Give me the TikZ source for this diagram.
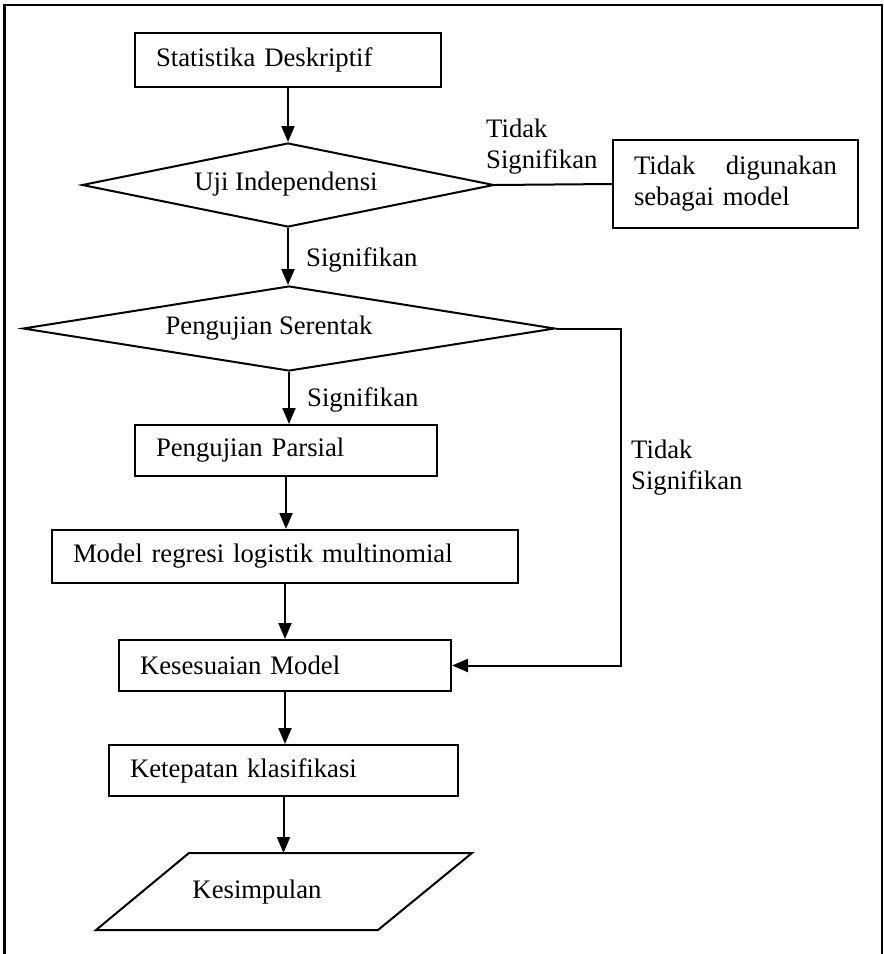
\documentclass[tikz,border=0pt]{standalone}
\usepackage{fontspec}
\setmainfont{Liberation Serif}
\usetikzlibrary{arrows.meta,shapes.geometric}
\begin{document}
\begin{tikzpicture}[x=1pt,y=-1pt,
  every node/.style={font=\fontsize{26.7}{31}\selectfont},
  box/.style={draw,line width=2pt,inner xsep=21pt,inner ysep=0pt,align=left},
  dia/.style={draw,diamond,line width=2pt,inner sep=0pt},
  arr/.style={line width=2pt,-{Triangle[length=16pt,width=13pt]}},
  ln/.style={line width=2pt},
  lbl/.style={inner sep=0pt,anchor=base west},
]
\useasboundingbox (0,0) rectangle (884,954);
% outer frame
\draw[line width=2.5pt] (4.5,975) -- (4.5,5) -- (882,5) -- (882,975);

\node[box,text width=264pt,minimum height=54pt] (s1) at (288,60) {Statistika Deskriptif};
\node[dia,aspect=4.905,minimum width=412pt,minimum height=84pt] (d1) at (288,185) {};
\node[inner sep=0pt] (d1t) at (286,184) {Uji Independensi};
\node[box,text width=203pt,minimum height=88pt] (td) at (735.5,184) {Tidak\hfill digunakan\\sebagai model};
\node[dia,aspect=6.26,minimum width=532pt,minimum height=85pt] (d2) at (289,328.5) {};
\node[inner sep=0pt] (d2t) at (269,328) {Pengujian Serentak};
\node[box,text width=260pt,minimum height=51pt] (p1) at (286,450.5) {Pengujian Parsial};
\node[box,text width=424pt,minimum height=53pt] (m1) at (285,556.5) {Model regresi logistik multinomial};
\node[box,text width=290pt,minimum height=51pt] (k1) at (285,665.5) {Kesesuaian Model};
\node[box,text width=307pt,minimum height=51pt] (k2) at (283.5,770.5) {Ketepatan klasifikasi};
% parallelogram
\coordinate (ksa) at (96,930);
\coordinate (ksb) at (189,853);
\coordinate (ksc) at (472,853);
\coordinate (ksd) at (378,930);
\draw[ln,line join=miter] (ksa) -- (ksb) -- (ksc) -- (ksd) -- cycle;
\node[inner sep=0pt] (kst) at (257,892) {Kesimpulan};

% labels
\node[lbl] (l1a) at (486,137) {Tidak};
\node[lbl] (l1b) at (486,168) {Signifikan};
\node[lbl] (l2) at (306,266) {Signifikan};
\node[lbl] (l3) at (307,406) {Signifikan};
\node[lbl] (l4a) at (631,458) {Tidak};
\node[lbl] (l4b) at (631,489) {Signifikan};

% connectors
\draw[arr] (s1.south) -- (s1.south |- d1.north);
\draw[arr] (d1.south) -- (d1.south |- d2.north);
\draw[ln] (d1.east) -- (td.west);
\draw[arr] (d2.south) -- (d2.south |- p1.north);
\draw[arr] (p1.south) -- (p1.south |- m1.north);
\draw[arr] (m1.south) -- (m1.south |- k1.north);
\draw[arr] (d2.east) -- ++(65,0) |- (k1.east);
\draw[arr] (k1.south) -- (k1.south |- k2.north);
\draw[arr] (k2.south) -- (k2.south |- ksb);
\end{tikzpicture}
\end{document}
